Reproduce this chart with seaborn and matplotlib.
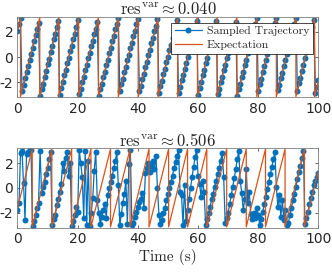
import numpy as np
import matplotlib
matplotlib.use("Agg")
import matplotlib.pyplot as plt
import seaborn as sns

# sampling interval of the trajectories (s)
sample_step = 0.5

# top panel: sampled phase, low residual variance
top_sampled = [
    2.05, 2.62, 3.08, -2.72, -2.18, -1.66, -1.20, -0.70, -0.24, 0.28,
    0.75, 1.26, 1.71, 2.24, 2.70, -3.06, -2.52, -2.10, -1.55, -1.12,
    -0.56, -0.14, 0.42, 0.85, 1.40, 1.83, 2.39, 2.88, -2.98, -2.42,
    -2.01, -1.46, -1.04, -0.50, -0.08, 0.47, 0.90, 1.44, 1.86, 2.40,
    2.92, -2.92, -2.50, -1.96, -1.55, -1.02, -0.60, -0.06, 0.35, 0.90,
    1.30, 1.84, 2.25, 2.80, -3.08, -2.54, -2.12, -1.58, -1.17, -0.63,
    -0.22, 0.33, 0.73, 1.28, 1.68, 2.22, 2.63, 3.10, -2.70, -2.16,
    -1.74, -1.20, -0.79, -0.25, 0.16, 0.71, 1.11, 1.66, 2.06, 2.61,
    3.02, -2.73, -2.31, -1.77, -1.36, -0.82, -0.41, 0.13, 0.54, 1.09,
    1.49, 2.04, 2.44, 2.99, -2.88, -2.33, -1.92, -1.37, -0.95, -0.40,
    0.02, 0.57, 0.98, 1.54, 1.95, 2.50, 2.92, -2.83, -2.41, -1.86,
    -1.46, -0.91, -0.51, 0.04, 0.45, 0.99, 1.40, 1.94, 2.35, 2.89,
    -2.98, -2.42, -2.01, -1.46, -1.04, -0.49, -0.08, 0.48, 0.89, 1.45,
    1.86, 2.41, 2.82, -2.91, -2.50, -1.96, -1.55, -1.01, -0.60, -0.05,
    0.35, 0.90, 1.30, 1.85, 2.25, 2.80, -3.08, -2.53, -2.12, -1.58,
    -1.17, -0.63, -0.22, 0.33, 0.73, 1.28, 1.68, 2.23, 2.63, 3.10,
    -2.69, -2.14, -1.72, -1.17, -0.75, -0.20, 0.21, 0.76, 1.18, 1.73,
    2.14, 2.69, 3.08, -2.62, -2.20, -1.65, -1.24, -0.68, -0.27, 0.28,
    0.69, 1.25, 1.66, 2.21, 2.62, 3.10, -2.66, -2.09, -1.65, -1.07,
    -0.64, -0.06, 0.38, 0.95, 1.39, 1.97, 2.40, 2.97, -2.82, -2.40,
    -1.86,
]

# bottom panel: sampled phase, high residual variance
bottom_sampled = [
    -1.8, -1.2, 2.8, 3.0, 0.4, -2.6, 2.7, 2.9, 3.1, 3.05,
    -3.1, -2.7, -2.2, -1.6, -1.2, 3.0, -0.4, 0.1, 0.5, 1.1,
    1.6, 2.3, 2.9, -3.0, -2.5, -2.2, -1.4, -0.9, -0.3, 0.3,
    2.0, 1.4, 2.4, 2.9, 1.0, 2.0, -3.1, -2.7, -2.2, -1.5,
    -1.9, 3.1, 2.0, 0.9, -2.4, 3.0, -3.0, 2.2, -3.1, -2.0,
    -0.8, 1.4, 2.9, -1.0, -2.0, -2.9, -2.3, -1.8, -1.3, -2.4,
    -0.6, 0.0, 0.5, 1.0, 1.6, 2.2, 2.9, 0.2, -3.0, -2.1,
    -1.2, -0.5, 0.6, -2.9, 1.9, 3.1, -3.0, -2.8, -2.3, -1.9,
    -1.5, -1.1, -0.9, -0.4, -1.6, 1.2, 1.6, 2.0, 1.3, 1.8,
    2.2, 1.5, 2.6, 0.0, -2.2, -2.9, -2.6, -2.0, -1.6, -1.0,
    -0.5, 0.0, 0.5, 1.0, 1.6, 2.1, 2.6, 3.1, -0.3, -0.6,
    -3.0, 0.2, -2.7, -1.8, -0.9, 0.0, 0.9, 1.7, 2.5, 3.1,
    1.0, 0.3, -0.7, 0.6, -0.3, -3.0, -2.5, -2.0, -1.5, -0.9,
    -0.5, 0.1, 0.6, 1.1, 1.6, 2.2, 2.8, 0.9, -2.8, -2.4,
    -2.0, -1.3, -0.6, 0.1, 0.8, 1.5, 2.3, 3.0, 0.6, -0.4,
    -1.8, -0.9, 1.5, -1.2, -0.3, -2.1, -2.5, -2.0, -2.4, -1.6,
    -2.2, -3.0, -2.5, -1.9, -1.3, -0.7, -0.1, 0.5, 1.1, 1.7,
    2.3, 2.9, 0.1, -1.5, -0.6, -2.3, -1.0, -2.6, -1.8, -3.0,
    -2.8, -2.2, -1.6, -1.0, -0.5, 0.1, 0.7, 1.3, 1.8, 2.4,
    3.0, -2.9, -2.4, -1.9, -1.3, -0.8, -0.3, 0.2, 0.6, 0.9,
    1.2,
]

# expectation: times where the wrapped phase jumps from pi to -pi
top_resets = [1.0, 7.4, 13.8, 20.3, 26.9, 33.5, 40.1, 46.7, 53.2, 59.8,
              66.3, 72.9, 79.5, 86.0, 92.5, 98.7]
top_expect_ends = [2.17, -1.88]
bottom_resets = [4.9, 11.4, 18.0, 24.4, 30.9, 37.4, 43.7, 50.2, 56.5, 62.9,
                 69.5, 76.0, 82.4, 88.9, 95.3]
bottom_expect_ends = [-1.61, 1.42]

titles = ["0.040", "0.506"]

BLUE = "#0072BD"
ORANGE = "#D95319"


def expectation_path(resets, ends):
    xs, ys = [0.0], [ends[0]]
    for r in resets:
        xs += [r, r]
        ys += [np.pi, -np.pi]
    xs.append(100.0)
    ys.append(ends[1])
    return xs, ys


sns.set_style("ticks")
plt.rcParams["mathtext.fontset"] = "cm"
plt.rcParams["font.family"] = ["DejaVu Sans"]
plt.rcParams["axes.unicode_minus"] = False

fig = plt.figure(figsize=(3.32, 2.72), dpi=100)
ax_top = fig.add_axes([0.0527, 0.642, 0.9066, 0.2966])
ax_bot = fig.add_axes([0.0527, 0.163, 0.9066, 0.2918])

panels = [
    (ax_top, top_sampled, top_resets, top_expect_ends, titles[0]),
    (ax_bot, bottom_sampled, bottom_resets, bottom_expect_ends, titles[1]),
]

for ax, sampled, resets, ends, res in panels:
    t = np.arange(len(sampled)) * sample_step
    sns.lineplot(x=t, y=sampled, ax=ax, estimator=None, sort=False,
                 color=BLUE, lw=0.9, marker="o", markersize=4.3,
                 markeredgewidth=0, label="Sampled Trajectory")
    ex, ey = expectation_path(resets, ends)
    sns.lineplot(x=ex, y=ey, ax=ax, estimator=None, sort=False,
                 color=ORANGE, lw=0.9, label="Expectation")
    ax.set_xlim(0, 100)
    ax.set_ylim(-3.2, 3.2)
    ax.set_xticks([0, 20, 40, 60, 80, 100])
    ax.set_yticks([-2, 0, 2])
    ax.tick_params(direction="in", top=True, right=True, length=2.5,
                   width=0.5, labelsize=10, pad=3, colors="#262626")
    for s in ax.spines.values():
        s.set_linewidth(0.6)
        s.set_color("#808080")
    ax.set_title(r"$\mathrm{res}^{\mathrm{var}} \approx " + res + "$",
                 fontsize=12, pad=2)
    ax.set_xlabel("")
    ax.set_ylabel("")

ax_bot.get_legend().remove()
leg = ax_top.legend(loc="upper right", prop={"family": "cmr10", "size": 8.5},
                    frameon=True, fancybox=False, edgecolor="black",
                    framealpha=1, borderaxespad=0.5, handlelength=2.3,
                    borderpad=0.3, labelspacing=0.3, handletextpad=0.4)
leg.get_frame().set_linewidth(0.5)

ax_bot.set_xlabel("Time (s)", family="cmr10", fontsize=11, labelpad=2)

fig.savefig("out.png", dpi=100)
